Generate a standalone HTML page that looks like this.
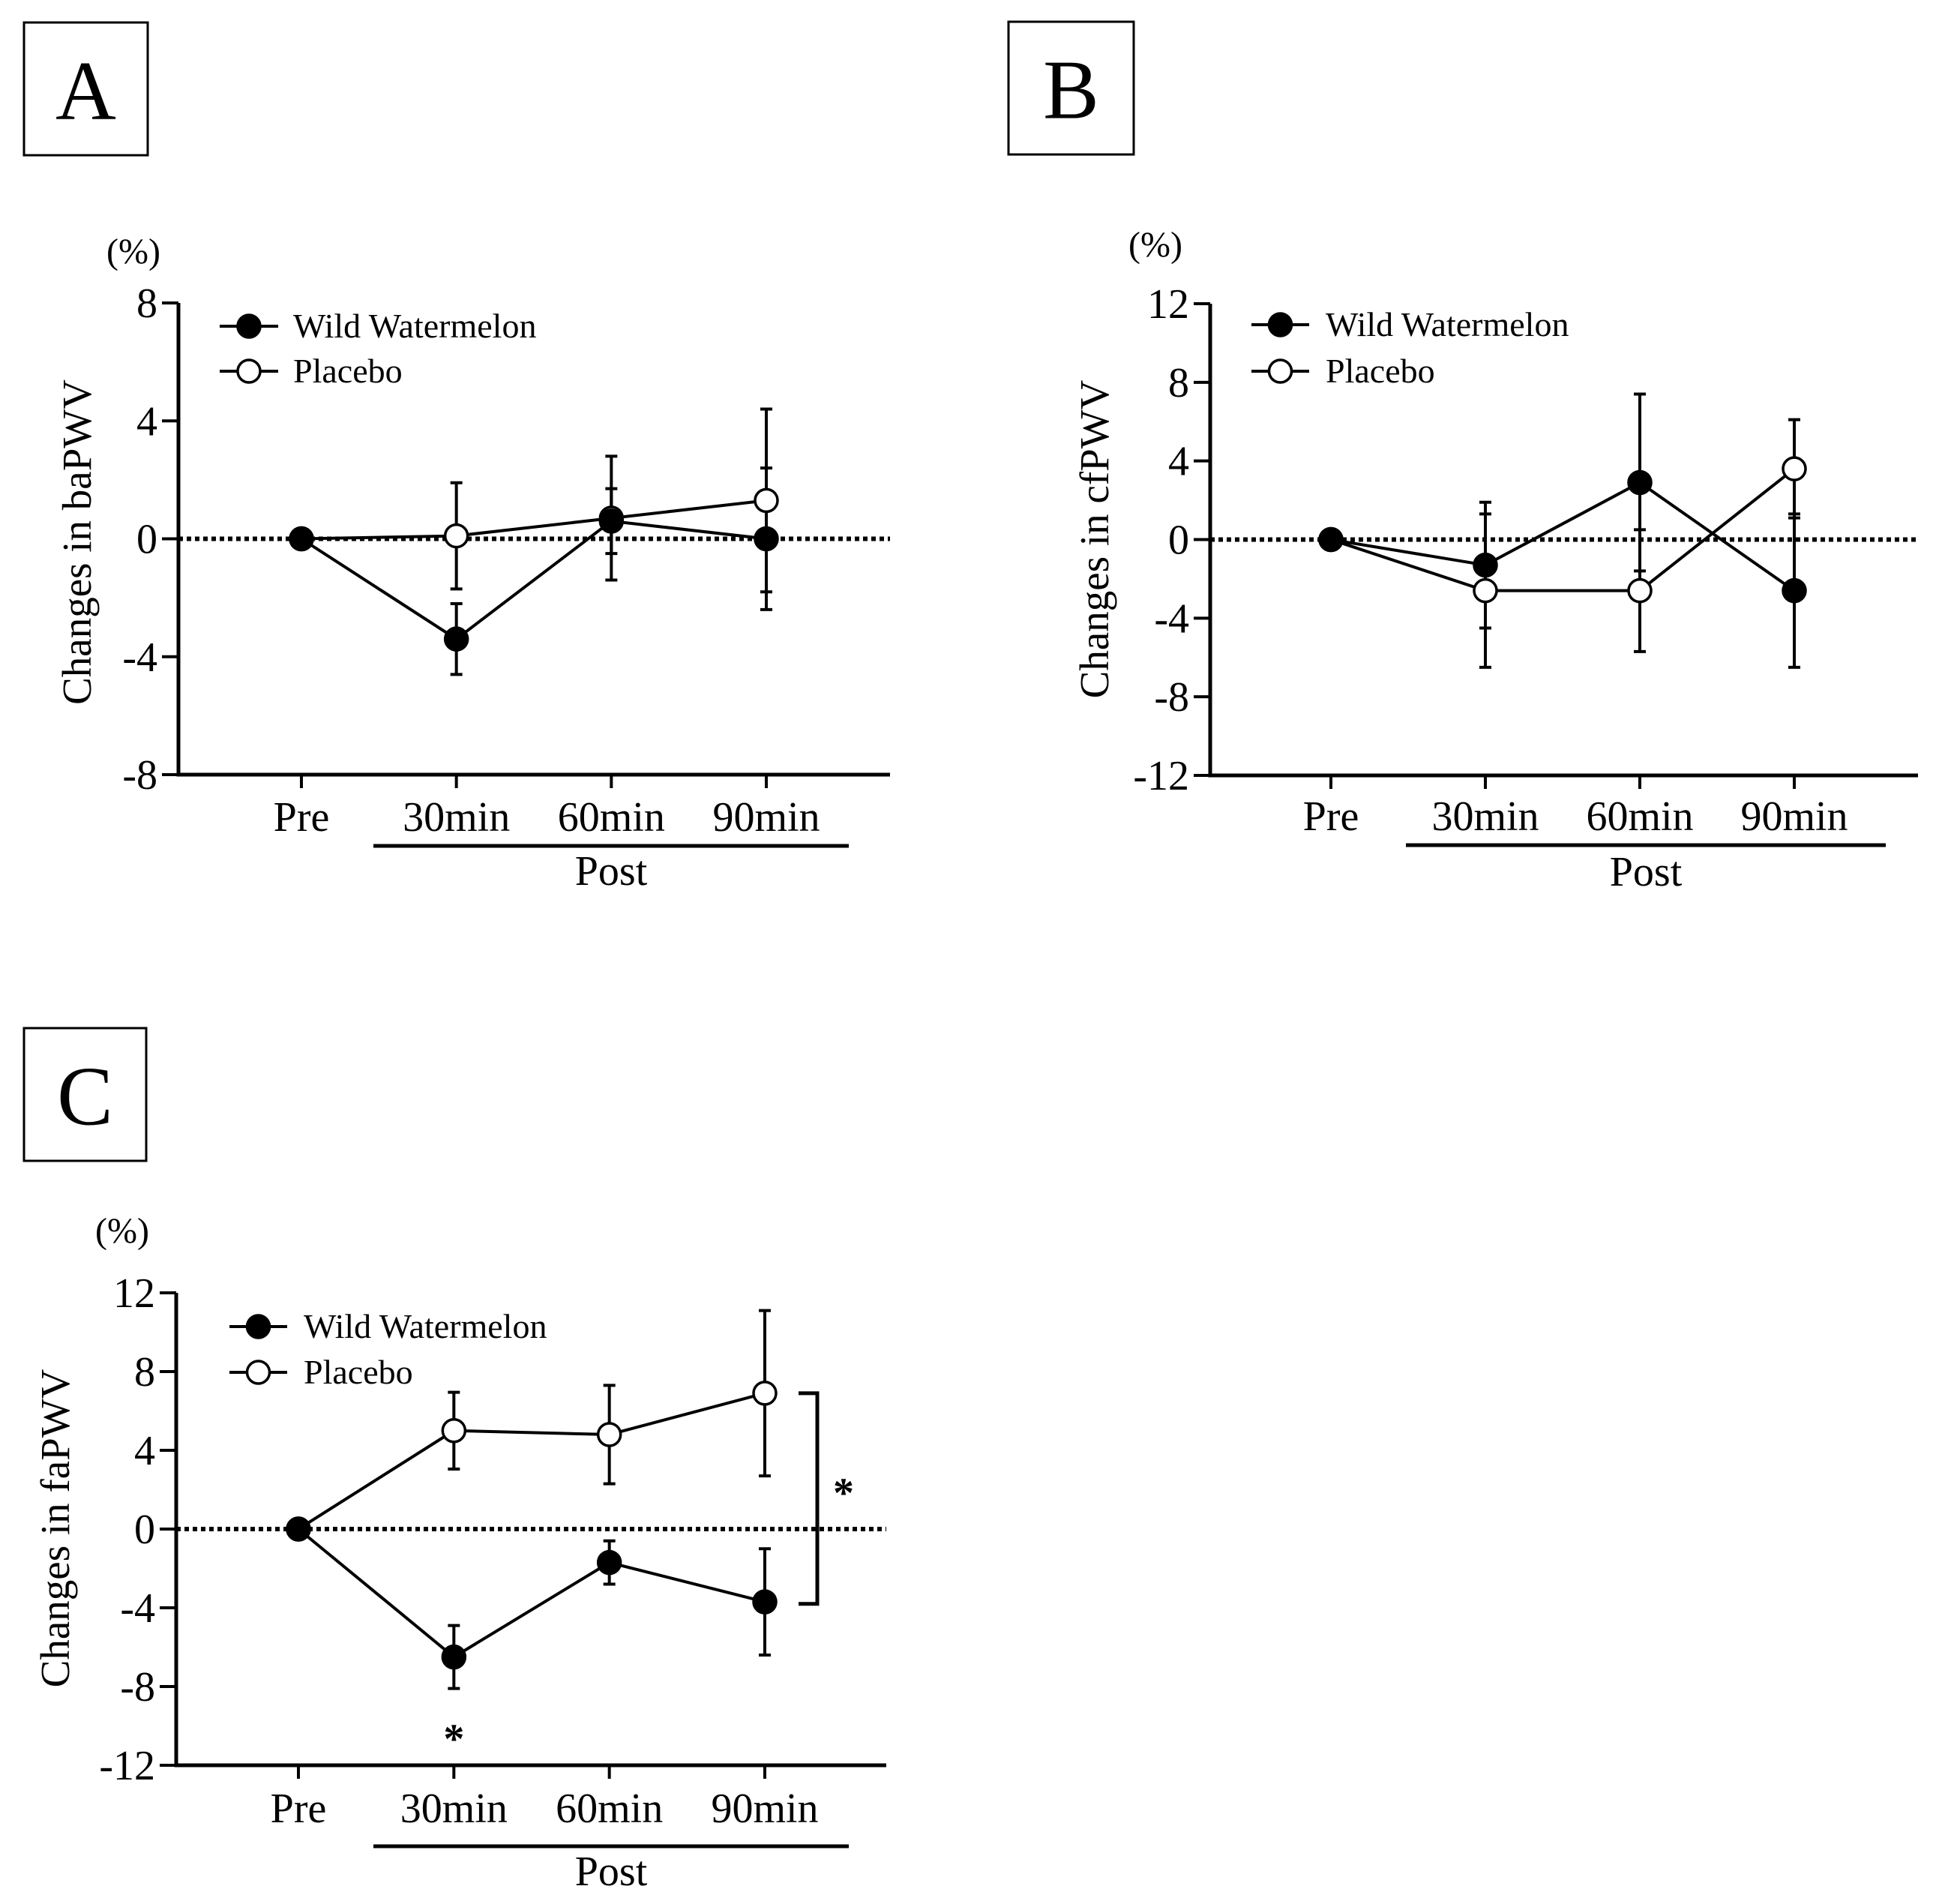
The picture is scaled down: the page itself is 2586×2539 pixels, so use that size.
<!DOCTYPE html>
<html><head><meta charset="utf-8"><style>
body{margin:0;background:#fff}
svg{display:block}
text{font-family:"Liberation Serif",serif;fill:#000}
</style></head><body>
<svg id="fig" width="2586" height="2539" viewBox="0 0 2586 2539" xmlns="http://www.w3.org/2000/svg"></svg>
<script>
const categories = ["Pre","30min","60min","90min"];
// Panel A (baPWV)
const aWild = [0, -3.4, 0.6, 0];
const aWildErr = [0, 1.2, 1.1, 2.4];
const aPlac = [0, 0.1, 0.7, 1.3];
const aPlacErr = [0, 1.8, 2.1, 3.1];
const aTicks = [8, 4, 0, -4, -8];
// Panel B (cfPWV)
const bWild = [0, -1.3, 2.9, -2.6];
const bWildErr = [0, 3.2, 4.5, 3.9];
const bPlac = [0, -2.6, -2.6, 3.6];
const bPlacErr = [0, 3.9, 3.1, 2.5];
const bTicks = [12, 8, 4, 0, -4, -8, -12];
// Panel C (faPWV)
const cWild = [0, -6.5, -1.7, -3.7];
const cWildErr = [0, 1.6, 1.1, 2.7];
const cPlac = [0, 5.0, 4.8, 6.9];
const cPlacErr = [0, 1.95, 2.5, 4.2];
const cTicks = [12, 8, 4, 0, -4, -8, -12];

const NS = "http://www.w3.org/2000/svg";
const svg = document.getElementById("fig");
function mk(tag, attrs, parent, txt){
  const e = document.createElementNS(NS, tag);
  for (const k in attrs) e.setAttribute(k, attrs[k]);
  if (txt !== undefined) e.textContent = txt;
  (parent || svg).appendChild(e);
  return e;
}

function panel(p){
  const g = mk("g", {});
  
  
  const yS = v => p.y0 + (v - p.vmax) / (p.vmin - p.vmax) * (p.y1 - p.y0);
  const xS = i => p.xs[0] + i * (p.xs[1] - p.xs[0]) / 3;

  const box = mk("rect", {x:p.box[0], y:p.box[1], width:p.box[2]-p.box[0], height:p.box[3]-p.box[1], fill:"none", stroke:"#000", "stroke-width":3}, g);
  
  
  const bl = mk("text", {x:(p.box[0]+p.box[2])/2, y:(p.box[1]+p.box[3])/2+40, "text-anchor":"middle", "font-size":112}, g, p.letter);
  
  

  const pc = mk("text", {x:p.pct[0], y:p.pct[1]+16, "text-anchor":"middle", "font-size":48}, g, "(%)");
  
  

  const yt = mk("text", {x:0, y:0, "text-anchor":"middle", "font-size":55, transform:`translate(${p.ylab[0]+19},${p.ylab[1]}) rotate(-90)`}, g, p.ytitle);
  
  

  const ya = mk("line", {x1:p.ax, y1:p.y0, x2:p.ax, y2:p.y1+2.5, stroke:"#000", "stroke-width":5}, g);
  
  
  const xa = mk("line", {x1:p.ax-2.5, y1:p.y1, x2:p.xr, y2:p.y1, stroke:"#000", "stroke-width":5}, g);
  
  

  p.ticks.forEach(t => {
    const tl = mk("line", {x1:p.ax-22, y1:yS(t), x2:p.ax, y2:yS(t), stroke:"#000", "stroke-width":4}, g);
    
    
    const tt = mk("text", {x:p.ax-28, y:yS(t)+19, "text-anchor":"end", "font-size":56}, g, String(t));
    
    
  });
  categories.forEach((c, i) => {
    const tl = mk("line", {x1:xS(i), y1:p.y1, x2:xS(i), y2:p.y1+18, stroke:"#000", "stroke-width":4}, g);
    
    
    const tt = mk("text", {x:xS(i), y:p.tickBase, "text-anchor":"middle", "font-size":56}, g, c);
    
    
  });
  const pl = mk("line", {x1:p.post[0], y1:p.post[2], x2:p.post[1], y2:p.post[2], stroke:"#000", "stroke-width":5}, g);
  
  
  const pt = mk("text", {x:(p.post[0]+p.post[1])/2, y:p.postBase, "text-anchor":"middle", "font-size":56}, g, "Post");
  
  

  const zl = mk("line", {x1:p.ax, y1:yS(0), x2:p.xr, y2:yS(0), stroke:"#000", "stroke-width":6, "stroke-dasharray":"6 5"}, g);
  
  

  const series = [
    {vals:p.plac, err:p.placErr, fill:"#fff", name:"placebo"},
    {vals:p.wild, err:p.wildErr, fill:"#000", name:"wild-watermelon"}
  ];
  series.forEach(s => {
    s.vals.forEach((v, i) => {
      if (!s.err[i]) return;
      const hi = yS(v + s.err[i]), lo = yS(v - s.err[i]);
      const eb = mk("path", {d:`M${xS(i)},${hi}V${lo}M${xS(i)-8},${hi}H${xS(i)+8}M${xS(i)-8},${lo}H${xS(i)+8}`, stroke:"#000", "stroke-width":4, fill:"none"}, g);
      
      
    });
  });
  series.forEach(s => {
    const ln = mk("polyline", {points:s.vals.map((v,i)=>xS(i)+","+yS(v)).join(" "), fill:"none", stroke:"#000", "stroke-width":4}, g);
    
    
  });
  series.forEach(s => {
    s.vals.forEach((v, i) => {
      const c = mk("circle", {cx:xS(i), cy:yS(v), r:15, fill:s.fill, stroke:"#000", "stroke-width":3.5}, g);
      
      
    });
  });

  [[p.leg[3], "#000", "Wild Watermelon", "legend-wild-watermelon"], [p.leg[4], "#fff", "Placebo", "legend-placebo"]].forEach(l => {
    const lg = mk("g", {}, g);
    
    
    mk("line", {x1:p.leg[0], y1:l[0], x2:p.leg[1], y2:l[0], stroke:"#000", "stroke-width":4}, lg);
    mk("circle", {cx:(p.leg[0]+p.leg[1])/2, cy:l[0], r:15, fill:l[1], stroke:"#000", "stroke-width":3.5}, lg);
    mk("text", {x:p.leg[2], y:l[0]+15, "font-size":46}, lg, l[2]);
  });

  if (p.sig) {
    const br = mk("path", {d:`M${p.sig.x1},${yS(p.sig.top)}H${p.sig.x2}V${yS(p.sig.bot)}H${p.sig.x1}`, fill:"none", stroke:"#000", "stroke-width":5}, g);
    
    
    const s1 = mk("text", {x:p.sig.starX, y:yS(p.sig.starV)+28, "text-anchor":"middle", "font-size":56, "font-weight":"bold", "font-family":"Liberation Sans"}, g, "*");
    
    
    const s2 = mk("text", {x:xS(1), y:yS(p.sig.star2V)+28, "text-anchor":"middle", "font-size":56, "font-weight":"bold", "font-family":"Liberation Sans"}, g, "*");
    
    
  }
}

panel({letter:"A", box:[32,30,197,207], pct:[178,335], ylab:[102,723], ytitle:"Changes in baPWV",
  ax:238, y0:404, y1:1033, vmax:8, vmin:-8, xs:[402,1022], xr:1187, ticks:aTicks,
  tickBase:1108, post:[498,1132,1128], postBase:1180,
  wild:aWild, wildErr:aWildErr, plac:aPlac, placErr:aPlacErr, leg:[293,371,391,435,495]});

panel({letter:"B", box:[1345,29,1512,206], pct:[1541,326], ylab:[1459,719], ytitle:"Changes in cfPWV",
  ax:1614, y0:405, y1:1034, vmax:12, vmin:-12, xs:[1775,2393], xr:2558, ticks:bTicks,
  tickBase:1107, post:[1875,2515,1127], postBase:1181,
  wild:bWild, wildErr:bWildErr, plac:bPlac, placErr:bPlacErr, leg:[1669,1746,1768,433,495]});

panel({letter:"C", box:[32,1371,195,1548], pct:[163,1641], ylab:[73,2038], ytitle:"Changes in faPWV",
  ax:235, y0:1724, y1:2354, vmax:12, vmin:-12, xs:[398,1020], xr:1182, ticks:cTicks,
  tickBase:2430, post:[498,1132,2462], postBase:2514,
  wild:cWild, wildErr:cWildErr, plac:cPlac, placErr:cPlacErr, leg:[306,383,405,1769,1830],
  sig:{x1:1065, x2:1090, top:6.9, bot:-3.8, starX:1125, starV:2.2, star2V:-10.3}});
</script>
</body></html>
